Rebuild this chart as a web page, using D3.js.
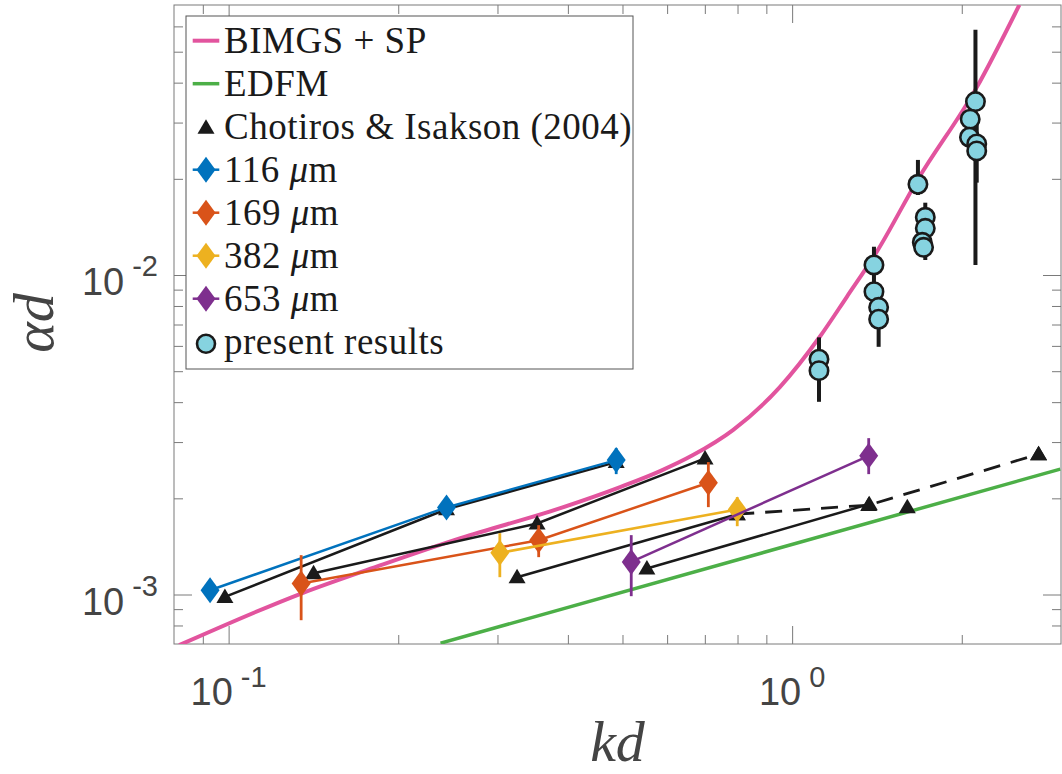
<!DOCTYPE html>
<html><head><meta charset="utf-8">
<script src="https://cdn.jsdelivr.net/npm/d3@7"></script>
<style>body{margin:0;background:#fff}svg{display:block}</style>
</head><body>
<svg id="c" width="1062" height="774"></svg>
<script>
// ---- data (kd, alpha*d) ----
const bimgsKd = [0.0817,0.1349,0.1862,0.2579,0.3879,0.4952,0.5831,0.6670,0.7851,0.951,1.1197,1.2498,1.4125,1.6697,2.1236,2.531];
const bimgsAd = [0.000694,0.001009,0.001235,0.001501,0.001863,0.002168,0.002433,0.002731,0.003270,0.004459,0.006408,0.008533,0.011805,0.019839,0.038521,0.07008];
const edfmKd = [0.2377, 2.991];
const edfmAd = [0.000704, 0.002469];

// Chotiros & Isakson (2004)
const chot116Kd = [0.0985, 0.2436, 0.4873];
const chot116Ad = [0.000983, 0.001849, 0.002597];
const chot169Kd = [0.1415, 0.3527, 0.7006];
const chot169Ad = [0.001166, 0.001669, 0.002666];
const chot382Kd = [0.3250, 0.7991];
const chot382Ad = [0.001133, 0.001784];
const chot653Kd = [0.5524, 1.3704];
const chot653Ad = [0.001206, 0.001918];
const chotDashKd = [0.7991, 1.3673, 2.7374];
const chotDashAd = [0.001784, 0.001905, 0.002750];
const chotExtraKd = [1.6010, 2.7374];
const chotExtraAd = [0.001877, 0.002750];

// grain-size series with error bars
const g116Kd = [0.0927, 0.2436, 0.4873];
const g116Ad = [0.001031, 0.001873, 0.002634];
const g116Lo = [0.000988, 0.001759, 0.002381];
const g116Hi = [0.001077, 0.001988, 0.002871];
const g169Kd = [0.1345, 0.3550, 0.7101];
const g169Ad = [0.001082, 0.001479, 0.002237];
const g169Lo = [0.000831, 0.001309, 0.001877];
const g169Hi = [0.001328, 0.001648, 0.002597];
const g382Kd = [0.3029, 0.7991];
const g382Ad = [0.001350, 0.001846];
const g382Lo = [0.001133, 0.001636];
const g382Hi = [0.001556, 0.002017];
const g653Kd = [0.5182, 1.3673];
const g653Ad = [0.001265, 0.002717];
const g653Lo = [0.000988, 0.002381];
const g653Hi = [0.001534, 0.003086];

// present results (null = no visible error bar)
const presKd = [1.116,1.116, 1.397,1.397,1.424,1.424, 1.672,1.723,1.723,1.702,1.711, 2.115,2.070,2.064,2.126,2.126];
const presAd = [0.00545,0.00502, 0.01075,0.00887,0.00792,0.00727, 0.01923,0.01516,0.01400,0.01266,0.01221, 0.03489,0.03074,0.02699,0.02572,0.02446];
const presLo = [0.00401,null, 0.00835,null,0.00596,null, 0.01780,0.01114,null,null,null, 0.01075,null,null,0.01946,null];
const presHi = [0.00638,null, 0.01226,null,0.00911,null, 0.02292,0.01684,null,null,null, 0.05853,null,null,0.03132,null];

// ticks
const xMajor = [0.1, 1];
const xMajorExp = ["-1", "0"];
const xMinor = [0.09,0.2,0.3,0.4,0.5,0.6,0.7,0.8,0.9,2];
const yMajor = [0.001, 0.01];
const yMajorExp = ["-3", "-2"];
const yMinor = [0.0008,0.0009,0.002,0.003,0.004,0.005,0.006,0.007,0.008,0.009,0.02,0.03,0.04,0.05,0.06];

const legendLabels = ["BIMGS + SP","EDFM","Chotiros & Isakson (2004)","116","169","382","653","present results"];

// colours
const cPink="#E2549E", cGreen="#4CAF47", cBlue="#0072BD", cOrange="#D95319", cYellow="#EDB120", cPurple="#7E2F8E", cCyan="#86D3E0";

// ---- drawing ----
const svg = d3.select("#c");
const L=174, R=1061, T=5, B=644;
const x = d3.scaleLog().domain([0.08, 3]).range([L, R]);
const y = d3.scaleLog().domain([0.0007, 0.07]).range([B, T]);

svg.append("defs").append("clipPath").attr("id","clip")
  .append("rect").attr("x",L).attr("y",T).attr("width",R-L).attr("height",B-T);

const axisCol="#7a7a7a";
function styleAxis(g){ g.select(".domain").remove(); g.selectAll(".tick line").attr("stroke",axisCol).attr("stroke-width",1); }
function addAxis(gen, tr){ svg.append("g").attr("transform",tr).call(gen).call(styleAxis); }
addAxis(d3.axisBottom(x).tickValues(xMajor).tickSizeInner(-18).tickSizeOuter(0).tickFormat(""), `translate(0,${B})`);
addAxis(d3.axisBottom(x).tickValues(xMinor).tickSizeInner(-9).tickSizeOuter(0).tickFormat(""), `translate(0,${B})`);
addAxis(d3.axisTop(x).tickValues(xMajor).tickSizeInner(-18).tickSizeOuter(0).tickFormat(""), `translate(0,${T})`);
addAxis(d3.axisTop(x).tickValues(xMinor).tickSizeInner(-9).tickSizeOuter(0).tickFormat(""), `translate(0,${T})`);
addAxis(d3.axisLeft(y).tickValues(yMajor).tickSizeInner(-18).tickSizeOuter(0).tickFormat(""), `translate(${L},0)`);
addAxis(d3.axisLeft(y).tickValues(yMinor).tickSizeInner(-9).tickSizeOuter(0).tickFormat(""), `translate(${L},0)`);
addAxis(d3.axisRight(y).tickValues(yMajor).tickSizeInner(-18).tickSizeOuter(0).tickFormat(""), `translate(${R},0)`);
addAxis(d3.axisRight(y).tickValues(yMinor).tickSizeInner(-9).tickSizeOuter(0).tickFormat(""), `translate(${R},0)`);
svg.append("rect").attr("x",L).attr("y",T).attr("width",R-L).attr("height",B-T)
  .attr("fill","none").attr("stroke",axisCol).attr("stroke-width",1);

// tick labels
const tickFont = "'Liberation Sans', Arial, Helvetica, sans-serif";
xMajor.forEach((v,i)=>{
  const t = svg.append("text").attr("x",x(v)).attr("y",705).attr("text-anchor","middle")
    .attr("font-family",tickFont).attr("font-size",38).attr("fill","#444");
  t.append("tspan").text("10");
  t.append("tspan").attr("dx",8).attr("dy",-18).attr("font-size",29).text(xMajorExp[i]);
});
yMajor.forEach((v,i)=>{
  const t = svg.append("text").attr("x",158).attr("y",y(v)+20).attr("text-anchor","end")
    .attr("font-family",tickFont).attr("font-size",38).attr("fill","#444");
  t.append("tspan").text("10");
  t.append("tspan").attr("dx",8).attr("dy",-19).attr("font-size",29).text(yMajorExp[i]);
});

// axis labels
const serif = "'Liberation Serif','DejaVu Serif','Times New Roman',serif";
svg.append("text").attr("x",(L+R)/2).attr("y",761).attr("text-anchor","middle")
  .attr("font-family",serif).attr("font-style","italic").attr("font-size",58).attr("fill","#444").text("kd");
svg.append("text").attr("transform","translate(53,323) rotate(-90)").attr("text-anchor","middle")
  .attr("font-family",serif).attr("font-style","italic").attr("font-size",58).attr("fill","#444").text("αd");

// plot content
const plot = svg.append("g").attr("clip-path","url(#clip)");
const lineGen = d3.line().x(d=>x(d[0])).y(d=>y(d[1]));
const zip = (a,b)=>a.map((v,i)=>[v,b[i]]);

plot.append("path").datum(zip(bimgsKd,bimgsAd))
  .attr("d", d3.line().x(d=>x(d[0])).y(d=>y(d[1])).curve(d3.curveMonotoneX))
  .attr("fill","none").attr("stroke",cPink).attr("stroke-width",4);
plot.append("path").datum(zip(edfmKd,edfmAd)).attr("d",lineGen)
  .attr("fill","none").attr("stroke",cGreen).attr("stroke-width",3.5);

const triPath = "M0,-8.5L8.5,6L-8.5,6Z";
const diaPath = "M0,-13L9.5,0L0,13L-9.5,0Z";

// Chotiros lines + triangles
[[chot116Kd,chot116Ad],[chot169Kd,chot169Ad],[chot382Kd,chot382Ad],[chot653Kd,chot653Ad]].forEach(([k,a])=>{
  plot.append("path").datum(zip(k,a)).attr("d",lineGen).attr("fill","none").attr("stroke","#1a1a1a").attr("stroke-width",2.5);
});
plot.append("path").datum(zip(chotDashKd,chotDashAd)).attr("d",lineGen).attr("fill","none")
  .attr("stroke","#1a1a1a").attr("stroke-width",2.8).attr("stroke-dasharray","17,11");
const allTri = [].concat(zip(chot116Kd,chot116Ad),zip(chot169Kd,chot169Ad),zip(chot382Kd,chot382Ad),
  zip(chot653Kd,chot653Ad),zip(chotDashKd,chotDashAd),zip(chotExtraKd,chotExtraAd));
plot.selectAll(".tri").data(allTri).join("path").attr("class","tri")
  .attr("d",triPath).attr("transform",d=>`translate(${x(d[0])},${y(d[1])})`).attr("fill","#1a1a1a");

// grain-size series
function series(k,a,lo,hi,col){
  plot.append("path").datum(zip(k,a)).attr("d",lineGen).attr("fill","none").attr("stroke",col).attr("stroke-width",2.5);
  k.forEach((kv,i)=>{
    plot.append("line").attr("x1",x(kv)).attr("x2",x(kv)).attr("y1",y(lo[i])).attr("y2",y(hi[i]))
      .attr("stroke",col).attr("stroke-width",2.8);
    plot.append("path").attr("d",diaPath).attr("transform",`translate(${x(kv)},${y(a[i])})`).attr("fill",col);
  });
}
series(g116Kd,g116Ad,g116Lo,g116Hi,cBlue);
series(g169Kd,g169Ad,g169Lo,g169Hi,cOrange);
series(g382Kd,g382Ad,g382Lo,g382Hi,cYellow);
series(g653Kd,g653Ad,g653Lo,g653Hi,cPurple);

// present results
presKd.forEach((kv,i)=>{
  if(presLo[i]!==null) plot.append("line").attr("x1",x(kv)).attr("x2",x(kv)).attr("y1",y(presLo[i])).attr("y2",y(presHi[i]))
    .attr("stroke","#1a1a1a").attr("stroke-width",4);
});
plot.selectAll(".pres").data(zip(presKd,presAd)).join("circle").attr("class","pres")
  .attr("cx",d=>x(d[0])).attr("cy",d=>y(d[1])).attr("r",9.2)
  .attr("fill",cCyan).attr("stroke","#1a1a1a").attr("stroke-width",2.6);

// legend
const lg = svg.append("g");
lg.append("rect").attr("x",186).attr("y",16).attr("width",447).attr("height",353)
  .attr("fill","#fff").attr("stroke","#555").attr("stroke-width",1);
const rowY = i => 40.7 + i*43.0;
const lx0=192.7, lx1=219.3, lxm=206, tx=224;
const legendColors = [cPink,cGreen,"#1a1a1a",cBlue,cOrange,cYellow,cPurple,cCyan];
legendLabels.forEach((lab,i)=>{
  const yy=rowY(i);
  if(i<2){
    lg.append("line").attr("x1",lx0).attr("x2",lx1).attr("y1",yy).attr("y2",yy).attr("stroke",legendColors[i]).attr("stroke-width",i===0?4:3.5);
  } else if(i===2){
    lg.append("path").attr("d",triPath).attr("transform",`translate(${lxm},${yy+1})`).attr("fill","#1a1a1a");
  } else if(i<7){
    lg.append("line").attr("x1",lx0).attr("x2",lx1).attr("y1",yy).attr("y2",yy).attr("stroke",legendColors[i]).attr("stroke-width",2.5);
    lg.append("path").attr("d",diaPath).attr("transform",`translate(${lxm},${yy})`).attr("fill",legendColors[i]);
  } else {
    lg.append("circle").attr("cx",lxm).attr("cy",yy+2).attr("r",9).attr("fill",cCyan).attr("stroke","#1a1a1a").attr("stroke-width",2.6);
  }
  const t = lg.append("text").attr("x",tx).attr("y",yy+12.5).attr("font-family",serif).attr("font-size",37)
    .attr("letter-spacing",0.5).attr("fill","#1a1a1a");
  if(i>=3 && i<7){
    t.append("tspan").text(lab+" ");
    t.append("tspan").attr("font-style","italic").text("μ");
    t.append("tspan").text("m");
  } else t.text(lab);
});
</script>
</body></html>
